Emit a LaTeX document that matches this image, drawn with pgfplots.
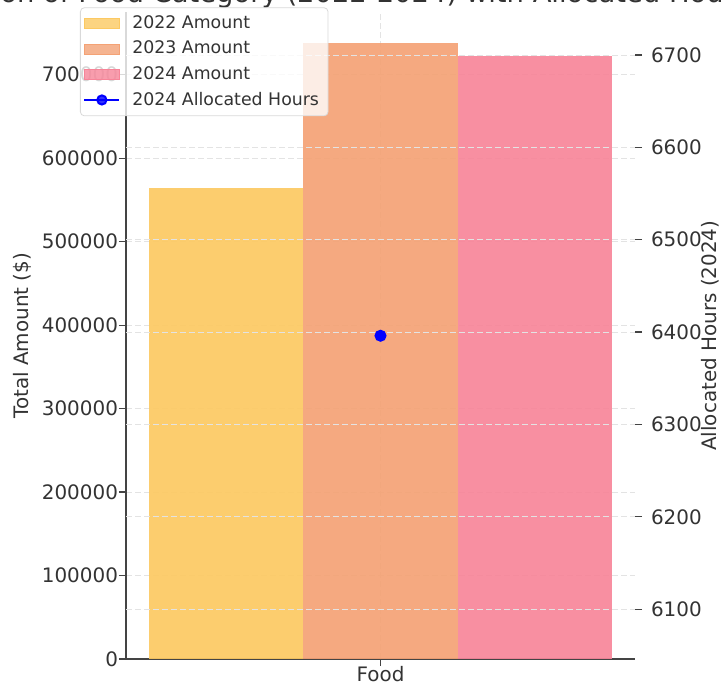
\documentclass[border=0pt]{standalone}
\usepackage{pgfplots}
\pgfplotsset{compat=1.18}
\usepackage{fontspec}
\setmainfont{DejaVu Sans}

\definecolor{c22}{HTML}{FCC962}
\definecolor{c23}{HTML}{F4A275}
\definecolor{c24}{HTML}{F78599}
\definecolor{spine}{HTML}{444444}
\definecolor{txt}{HTML}{333333}

\pgfplotsset{
  common/.style={
    scale only axis, width=254.5bp, height=323.25bp,
    xmin=-0.4125, xmax=0.4125,
    tick align=outside, major tick length=3.5bp,
    tick style={spine, line width=0.6bp},
    tick label style={font=\fontsize{10}{12}\selectfont, text=txt},
    label style={font=\fontsize{10}{12}\selectfont, text=txt},
    /pgf/number format/assume math mode=true,
    yticklabel style={/pgf/number format/fixed, /pgf/number format/1000 sep={}},
    scaled y ticks=false,
    grid style={dash pattern=on 3bp off 1.5bp, gray!22, line width=0.4bp},
  },
  barimg/.style={legend image code/.code={\fill[#1, sharp corners] (0bp,-2.5bp) rectangle (17.5bp,2.5bp);}},
}

\begin{document}
\begin{tikzpicture}
\useasboundingbox (-63bp,-12bp) rectangle (297.5bp,329.5bp);
\begin{pgfinterruptboundingbox}
\begin{scope}
\clip (-63bp,-12bp) rectangle (297.5bp,329.5bp);
\node[anchor=base west, inner sep=0, text=txt, font=\fontsize{13.75}{16}\selectfont]
  at (-128bp,328bp) {Comparison of Food Category (2022-2024) with Allocated Hours};

\begin{axis}[common,
  ymin=0, ymax=774585,
  axis x line*=bottom, axis y line*=left,
  axis line style={-, draw=spine, line width=0.9bp},
  xtick={0}, xticklabels={Food},
  xticklabel style={yshift=3.5bp},
  yticklabel style={xshift=3bp},
  ytick={0,100000,...,700000},
  xmajorgrids, ymajorgrids,
  ylabel={Total Amount (\$)},
  ylabel style={at={(axis description cs:-0.204,0.5)}, anchor=center},
]
\addplot[ybar, bar width=0.25, bar shift=0pt, fill=c22, draw=none, fill opacity=0.92]
  coordinates {(-0.25,564000)};
\addplot[ybar, bar width=0.25, bar shift=0pt, fill=c23, draw=none, fill opacity=0.92]
  coordinates {(0,737700)};
\addplot[ybar, bar width=0.25, bar shift=0pt, fill=c24, draw=none, fill opacity=0.92]
  coordinates {(0.25,722000)};
\end{axis}

\begin{axis}[common,
  ymin=6046, ymax=6746,
  axis x line=none, axis y line*=right,
  y axis line style={draw=none},
  ytick={6100,6200,...,6700},
  yticklabel style={xshift=1bp},
  ymajorgrids,
  ylabel={Allocated Hours (2024)},
  ylabel style={at={(axis description cs:1.147,0.5)}, anchor=center},
  legend cell align=left,
  legend style={at={(-0.0904,1.008)}, anchor=north west,
    draw=gray!30, rounded corners=2bp, fill=white, fill opacity=0.8, text opacity=1,
    font=\fontsize{8.7}{10.5}\selectfont, text=txt, inner sep=1.5bp,
    nodes={inner ysep=2.4bp, inner xsep=3bp},
    /tikz/every odd column/.append style={column sep=3bp}},
]
\addlegendimage{barimg=c22}
\addlegendimage{barimg=c23}
\addlegendimage{barimg=c24}
\addplot[blue, mark=*, mark size=2.5bp, line width=1bp,
  legend image code/.code={
    \draw[blue, line width=1bp, sharp corners] (0bp,0bp) -- (17.5bp,0bp);
    \fill[blue] (8.75bp,0bp) circle (2.3bp);}]
  coordinates {(0,6396)};
\legend{2022 Amount, 2023 Amount, 2024 Amount, 2024 Allocated Hours}
\end{axis}
\end{scope}
\end{pgfinterruptboundingbox}
\end{tikzpicture}
\end{document}
